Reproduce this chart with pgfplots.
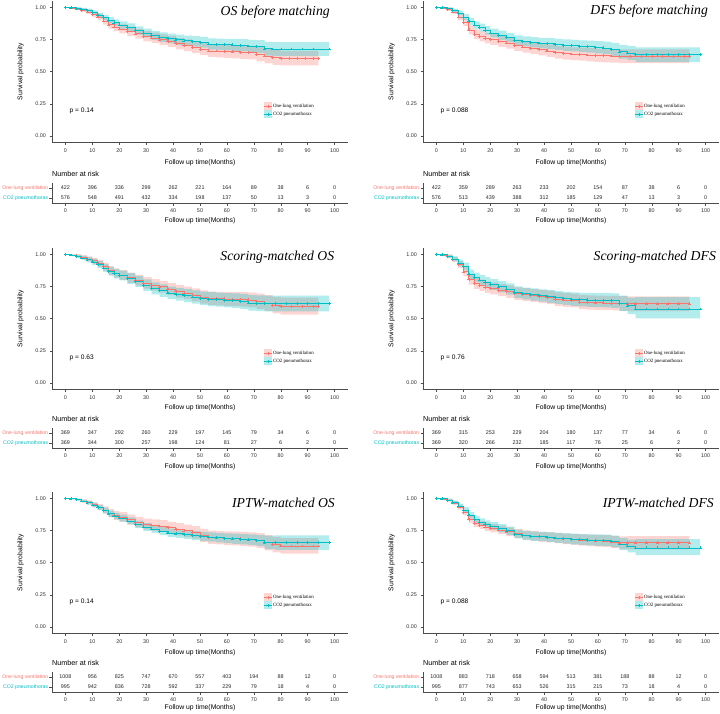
\documentclass[border=0pt]{standalone}
\usepackage{fontspec}
\setmainfont{Liberation Sans}
\newfontfamily\seriffont{Liberation Serif}
\usepackage{pgfplots}
\usepackage{pgfplotstable}
\usepgfplotslibrary{fillbetween}
\pgfplotsset{compat=1.18}

\definecolor{redC}{HTML}{F8766D}
\definecolor{cyanC}{HTML}{00BFC4}

\newcommand\fTick{\fontsize{5.4}{6.2}\selectfont}
\newcommand\fLab{\fontsize{6.8}{8}\selectfont}
\newcommand\fRisk{\fontsize{7.2}{8}\selectfont}
\newcommand\fNum{\fontsize{5.4}{6.2}\selectfont}
\newcommand\fGrp{\fontsize{5.15}{6}\selectfont}
\newcommand\fP{\fontsize{6.6}{7.5}\selectfont}
\newcommand\fLeg{\fontsize{4.9}{5.5}\selectfont\seriffont}
\newcommand\fTitle{\fontsize{13.7}{15}\selectfont\seriffont\itshape}

% survival tables: t = months, s = survival, lo/hi = 95% band
\pgfplotstableread{
t s lo hi
0 1 1 1
2 0.995 0.988 1
4 0.988 0.978 0.998
6 0.978 0.964 0.992
8 0.965 0.948 0.982
10 0.945 0.924 0.966
12 0.925 0.900 0.950
14 0.895 0.866 0.924
16 0.865 0.834 0.897
18 0.848 0.815 0.881
20 0.832 0.798 0.867
23 0.815 0.779 0.851
26 0.795 0.757 0.833
29 0.775 0.736 0.815
32 0.762 0.721 0.803
35 0.748 0.706 0.790
38 0.735 0.692 0.778
41 0.718 0.674 0.762
44 0.705 0.660 0.750
47 0.690 0.644 0.736
50 0.675 0.628 0.722
53 0.662 0.614 0.710
56 0.660 0.611 0.709
59 0.657 0.607 0.707
62 0.655 0.604 0.706
65 0.652 0.600 0.704
68 0.648 0.595 0.701
71 0.635 0.580 0.690
74 0.622 0.565 0.679
77 0.612 0.553 0.671
80 0.605 0.548 0.662
83 0.605 0.548 0.662
86 0.605 0.548 0.662
89 0.605 0.548 0.662
92 0.605 0.548 0.662
94 0.605 0.548 0.662
}\osbR
\pgfplotstableread{
t s lo hi
0 1 1 1
2 0.997 0.992 1
4 0.992 0.984 1
6 0.985 0.975 0.995
8 0.975 0.962 0.988
10 0.960 0.944 0.976
12 0.940 0.921 0.959
14 0.920 0.898 0.942
16 0.900 0.876 0.924
18 0.880 0.854 0.906
20 0.862 0.834 0.890
23 0.845 0.815 0.875
26 0.820 0.788 0.852
29 0.800 0.766 0.834
32 0.782 0.747 0.817
35 0.768 0.731 0.805
38 0.758 0.720 0.796
41 0.748 0.709 0.787
44 0.740 0.700 0.780
47 0.735 0.694 0.776
50 0.728 0.686 0.770
53 0.715 0.672 0.758
56 0.712 0.668 0.756
59 0.710 0.665 0.755
62 0.708 0.662 0.754
65 0.705 0.658 0.752
68 0.700 0.652 0.748
71 0.695 0.645 0.745
74 0.678 0.625 0.731
77 0.676 0.622 0.730
80 0.676 0.622 0.730
84 0.676 0.622 0.730
88 0.676 0.622 0.730
92 0.676 0.622 0.730
98 0.676 0.622 0.730
}\osbC
\pgfplotstableread{
t s lo hi
0 1 1 1
2 0.995 0.988 1
4 0.985 0.973 0.997
6 0.965 0.948 0.982
8 0.925 0.900 0.950
10 0.885 0.855 0.915
12 0.825 0.790 0.860
14 0.790 0.752 0.828
16 0.775 0.736 0.814
18 0.760 0.720 0.800
20 0.750 0.709 0.791
23 0.735 0.693 0.777
26 0.722 0.679 0.765
29 0.705 0.661 0.749
32 0.692 0.647 0.737
35 0.682 0.636 0.728
38 0.672 0.626 0.719
41 0.662 0.615 0.710
44 0.650 0.602 0.698
47 0.643 0.594 0.692
50 0.638 0.589 0.688
53 0.635 0.585 0.686
56 0.630 0.580 0.682
59 0.627 0.576 0.679
62 0.625 0.573 0.677
65 0.622 0.570 0.675
68 0.620 0.567 0.674
72 0.620 0.567 0.674
76 0.620 0.567 0.674
80 0.620 0.567 0.674
84 0.620 0.567 0.674
88 0.620 0.567 0.674
92 0.620 0.567 0.674
94 0.620 0.567 0.674
}\dfsbR
\pgfplotstableread{
t s lo hi
0 1 1 1
2 0.997 0.992 1
4 0.990 0.981 0.999
6 0.975 0.961 0.989
8 0.955 0.937 0.973
10 0.925 0.903 0.947
12 0.890 0.864 0.916
14 0.862 0.833 0.891
16 0.842 0.811 0.873
18 0.820 0.787 0.853
20 0.800 0.766 0.834
23 0.782 0.746 0.818
26 0.765 0.728 0.802
29 0.745 0.707 0.783
32 0.735 0.696 0.774
35 0.728 0.688 0.768
38 0.722 0.681 0.763
41 0.718 0.676 0.760
44 0.712 0.669 0.755
47 0.706 0.662 0.750
50 0.702 0.657 0.747
53 0.698 0.652 0.744
56 0.694 0.647 0.741
59 0.690 0.642 0.738
62 0.685 0.636 0.734
65 0.672 0.621 0.723
68 0.655 0.602 0.708
71 0.645 0.590 0.700
74 0.632 0.575 0.689
78 0.632 0.575 0.689
82 0.632 0.575 0.689
86 0.632 0.575 0.689
90 0.632 0.575 0.689
94 0.632 0.575 0.689
98 0.632 0.575 0.689
}\dfsbC
\pgfplotstableread{
t s lo hi
0 1 1 1
2 0.995 0.987 1
4 0.988 0.976 1
6 0.978 0.962 0.994
8 0.965 0.946 0.984
10 0.950 0.927 0.973
12 0.930 0.903 0.957
14 0.905 0.874 0.936
16 0.875 0.841 0.909
18 0.855 0.819 0.891
20 0.840 0.802 0.878
23 0.818 0.778 0.858
26 0.798 0.756 0.840
29 0.778 0.734 0.822
32 0.762 0.717 0.807
35 0.748 0.702 0.794
38 0.730 0.683 0.777
41 0.712 0.664 0.760
44 0.700 0.651 0.749
47 0.685 0.635 0.735
50 0.668 0.617 0.719
53 0.660 0.608 0.712
56 0.656 0.603 0.709
59 0.654 0.600 0.708
62 0.652 0.597 0.707
65 0.650 0.594 0.706
68 0.646 0.589 0.703
71 0.635 0.576 0.694
74 0.620 0.558 0.682
77 0.605 0.541 0.669
80 0.597 0.531 0.663
84 0.597 0.531 0.663
88 0.597 0.531 0.663
92 0.597 0.531 0.663
94 0.597 0.531 0.663
}\ossR
\pgfplotstableread{
t s lo hi
0 1 1 1
2 0.995 0.987 1
4 0.985 0.972 0.998
6 0.972 0.955 0.989
8 0.958 0.937 0.979
10 0.942 0.917 0.967
12 0.920 0.892 0.948
14 0.895 0.864 0.926
16 0.868 0.834 0.902
18 0.850 0.813 0.887
20 0.835 0.797 0.873
23 0.812 0.771 0.853
26 0.790 0.747 0.833
29 0.760 0.715 0.805
32 0.735 0.688 0.782
35 0.718 0.670 0.766
38 0.700 0.651 0.749
41 0.690 0.640 0.740
44 0.680 0.629 0.731
47 0.668 0.616 0.720
50 0.658 0.605 0.711
53 0.652 0.598 0.706
56 0.648 0.593 0.703
59 0.643 0.587 0.699
62 0.640 0.583 0.697
65 0.635 0.577 0.693
68 0.622 0.562 0.682
71 0.620 0.559 0.681
74 0.618 0.556 0.680
78 0.618 0.556 0.680
82 0.618 0.556 0.680
86 0.618 0.556 0.680
90 0.618 0.556 0.680
94 0.618 0.556 0.680
98 0.618 0.556 0.680
}\ossC
\pgfplotstableread{
t s lo hi
0 1 1 1
2 0.995 0.987 1
4 0.983 0.969 0.997
6 0.960 0.940 0.980
8 0.920 0.892 0.948
10 0.865 0.830 0.900
12 0.805 0.764 0.846
14 0.775 0.732 0.818
16 0.760 0.716 0.804
18 0.745 0.700 0.790
20 0.735 0.689 0.781
23 0.722 0.675 0.769
26 0.710 0.662 0.758
29 0.695 0.646 0.744
32 0.688 0.638 0.738
35 0.680 0.630 0.730
38 0.672 0.621 0.723
41 0.665 0.613 0.717
44 0.652 0.600 0.705
47 0.645 0.592 0.698
50 0.640 0.587 0.694
53 0.628 0.574 0.682
56 0.626 0.571 0.681
59 0.624 0.569 0.680
62 0.622 0.566 0.678
65 0.620 0.564 0.677
68 0.618 0.561 0.675
71 0.616 0.558 0.674
74 0.616 0.558 0.674
78 0.616 0.558 0.674
82 0.616 0.558 0.674
86 0.616 0.558 0.674
90 0.616 0.558 0.674
94 0.616 0.558 0.674
}\dfssR
\pgfplotstableread{
t s lo hi
0 1 1 1
2 0.997 0.991 1
4 0.985 0.972 0.998
6 0.965 0.946 0.984
8 0.932 0.906 0.958
10 0.905 0.875 0.935
12 0.845 0.809 0.881
14 0.820 0.782 0.858
16 0.800 0.760 0.840
18 0.782 0.741 0.823
20 0.765 0.723 0.807
23 0.748 0.705 0.791
26 0.730 0.686 0.774
29 0.705 0.660 0.750
32 0.695 0.649 0.741
35 0.688 0.641 0.735
38 0.680 0.632 0.728
41 0.672 0.623 0.721
44 0.665 0.615 0.715
47 0.658 0.607 0.709
50 0.652 0.600 0.704
53 0.648 0.595 0.701
56 0.646 0.592 0.700
59 0.645 0.590 0.700
62 0.644 0.588 0.700
65 0.640 0.583 0.697
68 0.620 0.560 0.680
71 0.600 0.536 0.664
74 0.575 0.502 0.667
78 0.575 0.502 0.667
82 0.575 0.502 0.667
86 0.575 0.502 0.667
90 0.575 0.502 0.667
94 0.575 0.502 0.667
98 0.575 0.502 0.667
}\dfssC
\pgfplotstableread{
t s lo hi
0 1 1 1
2 0.997 0.992 1
4 0.990 0.982 0.998
6 0.980 0.968 0.992
8 0.968 0.952 0.984
10 0.950 0.930 0.970
12 0.932 0.908 0.956
14 0.910 0.882 0.938
16 0.885 0.853 0.917
18 0.868 0.833 0.903
20 0.855 0.818 0.892
23 0.835 0.796 0.874
26 0.815 0.774 0.856
29 0.800 0.757 0.843
32 0.792 0.748 0.836
35 0.785 0.740 0.830
38 0.772 0.726 0.818
41 0.760 0.713 0.807
44 0.748 0.700 0.796
47 0.735 0.686 0.784
50 0.712 0.662 0.762
53 0.698 0.647 0.749
56 0.694 0.642 0.746
59 0.690 0.637 0.743
62 0.688 0.634 0.742
65 0.685 0.630 0.740
68 0.680 0.624 0.736
71 0.672 0.615 0.729
74 0.655 0.596 0.714
77 0.640 0.580 0.700
80 0.630 0.570 0.690
84 0.630 0.570 0.690
88 0.630 0.570 0.690
92 0.630 0.570 0.690
94 0.630 0.570 0.690
}\osiR
\pgfplotstableread{
t s lo hi
0 1 1 1
2 0.997 0.992 1
4 0.990 0.982 0.998
6 0.980 0.969 0.991
8 0.966 0.952 0.980
10 0.948 0.931 0.965
12 0.928 0.908 0.948
14 0.905 0.883 0.927
16 0.880 0.856 0.904
18 0.862 0.837 0.887
20 0.847 0.821 0.873
23 0.825 0.797 0.853
26 0.798 0.769 0.827
29 0.778 0.748 0.808
32 0.762 0.731 0.793
35 0.745 0.714 0.776
38 0.732 0.700 0.764
41 0.725 0.692 0.758
44 0.718 0.685 0.751
47 0.712 0.678 0.746
50 0.705 0.670 0.740
53 0.700 0.664 0.736
56 0.695 0.658 0.732
59 0.690 0.652 0.728
62 0.686 0.647 0.725
65 0.682 0.642 0.722
68 0.678 0.637 0.719
71 0.672 0.629 0.715
74 0.658 0.605 0.711
78 0.656 0.600 0.712
82 0.656 0.600 0.712
86 0.656 0.600 0.712
90 0.656 0.600 0.712
94 0.656 0.600 0.712
98 0.656 0.600 0.712
}\osiC
\pgfplotstableread{
t s lo hi
0 1 1 1
2 0.996 0.990 1
4 0.985 0.975 0.995
6 0.965 0.950 0.980
8 0.932 0.913 0.951
10 0.890 0.867 0.913
12 0.835 0.808 0.862
14 0.805 0.776 0.834
16 0.790 0.760 0.820
18 0.778 0.747 0.809
20 0.768 0.736 0.800
23 0.755 0.722 0.788
26 0.740 0.706 0.774
29 0.725 0.690 0.760
32 0.715 0.679 0.751
35 0.708 0.671 0.745
38 0.702 0.664 0.740
41 0.698 0.659 0.737
44 0.692 0.652 0.732
47 0.686 0.645 0.727
50 0.680 0.638 0.722
53 0.676 0.633 0.719
56 0.673 0.629 0.717
59 0.670 0.625 0.715
62 0.668 0.622 0.714
65 0.662 0.615 0.709
68 0.655 0.606 0.704
71 0.655 0.604 0.706
74 0.655 0.603 0.707
78 0.655 0.603 0.707
82 0.655 0.603 0.707
86 0.655 0.603 0.707
90 0.655 0.603 0.707
94 0.655 0.603 0.707
}\dfsiR
\pgfplotstableread{
t s lo hi
0 1 1 1
2 0.997 0.992 1
4 0.988 0.979 0.997
6 0.970 0.957 0.983
8 0.940 0.923 0.957
10 0.910 0.889 0.931
12 0.870 0.845 0.895
14 0.835 0.807 0.863
16 0.815 0.786 0.844
18 0.798 0.768 0.828
20 0.785 0.754 0.816
23 0.768 0.736 0.800
26 0.748 0.715 0.781
29 0.722 0.688 0.756
32 0.712 0.677 0.747
35 0.706 0.670 0.742
38 0.702 0.665 0.739
41 0.698 0.660 0.736
44 0.692 0.653 0.731
47 0.688 0.648 0.728
50 0.684 0.643 0.725
53 0.680 0.638 0.722
56 0.677 0.634 0.720
59 0.675 0.631 0.719
62 0.673 0.628 0.718
65 0.665 0.619 0.711
68 0.645 0.597 0.693
71 0.630 0.580 0.680
74 0.615 0.558 0.682
78 0.615 0.558 0.682
82 0.615 0.558 0.682
86 0.615 0.558 0.682
90 0.615 0.558 0.682
94 0.615 0.558 0.682
98 0.615 0.558 0.682
}\dfsiC

% numbers at risk: r = one-lung ventilation, c = CO2 pneumothorax
\pgfplotstableread{
t r c
0 422 576
10 396 548
20 336 491
30 299 432
40 262 334
50 221 198
60 164 137
70 89 50
80 38 13
90 6 3
100 0 0
}\riskA
\pgfplotstableread{
t r c
0 422 576
10 359 513
20 289 439
30 263 388
40 233 312
50 202 185
60 154 129
70 87 47
80 38 13
90 6 3
100 0 0
}\riskB
\pgfplotstableread{
t r c
0 369 369
10 347 344
20 292 300
30 260 257
40 229 198
50 197 124
60 145 81
70 79 27
80 34 6
90 6 2
100 0 0
}\riskC
\pgfplotstableread{
t r c
0 369 369
10 315 320
20 253 266
30 229 232
40 204 185
50 180 117
60 137 76
70 77 25
80 34 6
90 6 2
100 0 0
}\riskD
\pgfplotstableread{
t r c
0 1008 995
10 956 942
20 825 836
30 747 728
40 670 592
50 557 337
60 403 229
70 194 79
80 88 18
90 12 4
100 0 0
}\riskE
\pgfplotstableread{
t r c
0 1008 995
10 883 877
20 718 743
30 658 653
40 594 526
50 513 315
60 381 215
70 188 73
80 88 18
90 12 4
100 0 0
}\riskF

\pgfplotsset{
  base/.style={scale only axis, width=296pt, xmin=-5, xmax=105,
    axis lines*=left, xtick={0,10,...,100}, tick align=outside,
    major tick length=2.5pt,
    axis line style={black!70, line width=0.4pt},
    tick style={black!70, line width=0.4pt},
    tick label style={font=\fTick, text=black!80},
    /pgf/number format/assume math mode=true,
    every axis title shift=0pt,
    xlabel={Follow up time(Months)},
    every axis x label/.style={font=\fLab, anchor=center}},
  km/.style={base, height=141.5pt, ymin=-0.05, ymax=1.05,
    ytick={0,0.25,0.5,0.75,1},
    yticklabel style={/pgf/number format/fixed,
      /pgf/number format/fixed zerofill, /pgf/number format/precision=2},
    ylabel={Survival probability},
    every axis y label/.style={at={(axis description cs:-0.106,0.5)},
      rotate=90, anchor=center, font=\fLab},
    legend style={at={(0.715,0.285)}, anchor=north west, draw=none,
      fill=none, font=\fLeg, row sep=0.4pt, inner sep=0pt,
      nodes={inner sep=0.6pt, text height=4.2pt, text depth=1.3pt}},
    legend cell align=left},
  risk/.style={base, height=20pt, ymin=0.5, ymax=2.5, ytick={1,2},
    yticklabels={\textcolor{cyanC}{CO2 pneumothorax},
      \textcolor{redC}{One-lung ventilation}},
    yticklabel style={font=\fGrp, inner sep=1.2pt},
    title={Number at risk},
    title style={at={(axis description cs:0,1)}, anchor=south west,
      inner sep=0pt, yshift=6.5pt, font=\fRisk}},
  redkey/.style={legend image code/.code={
    \fill[redC, fill opacity=0.3, draw=none] (0pt,-3.8pt) rectangle (8pt,3.8pt);
    \draw[redC, line width=0.6pt] (0pt,0pt) -- (8pt,0pt);
    \draw[redC, line width=0.5pt] (4pt,-1.5pt) -- (4pt,1.5pt);}},
  cyankey/.style={legend image code/.code={
    \fill[cyanC, fill opacity=0.3, draw=none] (0pt,-3.8pt) rectangle (8pt,3.8pt);
    \draw[cyanC, line width=0.6pt] (0pt,0pt) -- (8pt,0pt);
    \draw[cyanC, line width=0.5pt] (4pt,-1.5pt) -- (4pt,1.5pt);}},
  curve/.style={const plot, line width=0.6pt, mark=+, mark size=1.4pt,
    mark options={line width=0.4pt}},
}

% #1 left, #2 top, #3 red table, #4 cyan table, #5 title,
% #6 title x, #7 title y, #8 p label, #9 xlabel y
\newcommand{\kmaxis}[9]{%
\begin{axis}[km, anchor=north west, at={(#1,#2)},
  title={#5}, title style={at={(axis description cs:#6,#7)},
    anchor=east, inner sep=0pt, font=\fTitle},
  xlabel style={at={(axis description cs:0.5,#9)}}]
\addplot[const plot, draw=none, name path=ru, forget plot] table[x=t, y=hi] {#3};
\addplot[const plot, draw=none, name path=rl, forget plot] table[x=t, y=lo] {#3};
\addplot[const plot, draw=none, name path=cu, forget plot] table[x=t, y=hi] {#4};
\addplot[const plot, draw=none, name path=cl, forget plot] table[x=t, y=lo] {#4};
\addplot[fill=redC, fill opacity=0.3, draw=none, forget plot] fill between[of=ru and rl];
\addplot[fill=cyanC, fill opacity=0.3, draw=none, forget plot] fill between[of=cu and cl];
\addplot[curve, redC, forget plot] table[x=t, y=s] {#3};
\addplot[curve, cyanC, forget plot] table[x=t, y=s] {#4};
\addlegendimage{redkey}\addlegendentry{One-lung ventilation}
\addlegendimage{cyankey}\addlegendentry{CO2 pneumothorax}
\node[anchor=west, font=\fP, inner sep=0pt] at (axis cs:1.5,0.195) {#8};
\end{axis}}

% #1 left, #2 top, #3 risk table, #4 xlabel y
\newcommand{\riskaxis}[4]{%
\begin{axis}[risk, anchor=north west, at={(#1,#2)},
  xlabel style={at={(axis description cs:0.5,#4)}}]
\addplot[draw=none, nodes near coords, point meta=explicit symbolic,
  nodes near coords align=center,
  every node near coord/.append style={font=\fNum, text=black!85, inner sep=0pt}]
  table[x=t, y expr=2, meta=r] {#3};
\addplot[draw=none, nodes near coords, point meta=explicit symbolic,
  nodes near coords align=center,
  every node near coord/.append style={font=\fNum, text=black!85, inner sep=0pt}]
  table[x=t, y expr=1, meta=c] {#3};
\end{axis}}

\begin{document}
\begin{tikzpicture}
% row 1
\kmaxis{52pt}{-0.9pt}{\osbR}{\osbC}{OS before matching}{0.939}{0.922}{p = 0.14}{-0.146}
\riskaxis{52pt}{-183pt}{\riskA}{-0.9}
\kmaxis{423pt}{-0.9pt}{\dfsbR}{\dfsbC}{DFS before matching}{0.963}{0.927}{p = 0.088}{-0.146}
\riskaxis{423pt}{-183pt}{\riskB}{-0.9}
% row 2
\kmaxis{52pt}{-247.9pt}{\ossR}{\ossC}{Scoring-matched OS}{0.954}{0.936}{p = 0.63}{-0.127}
\riskaxis{52pt}{-428pt}{\riskC}{-0.95}
\kmaxis{423pt}{-247.9pt}{\dfssR}{\dfssC}{Scoring-matched DFS}{0.99}{0.936}{p = 0.76}{-0.127}
\riskaxis{423pt}{-428pt}{\riskD}{-0.95}
% row 3
\kmaxis{52pt}{-491.9pt}{\osiR}{\osiC}{IPTW-matched OS}{0.956}{0.926}{p = 0.14}{-0.134}
\riskaxis{52pt}{-672pt}{\riskE}{-0.8}
\kmaxis{423pt}{-491.9pt}{\dfsiR}{\dfsiC}{IPTW-matched DFS}{0.983}{0.926}{p = 0.088}{-0.134}
\riskaxis{423pt}{-672pt}{\riskF}{-0.8}
\pgfresetboundingbox
\useasboundingbox (0pt,0pt) rectangle (720pt,-713pt);
\end{tikzpicture}
\end{document}
